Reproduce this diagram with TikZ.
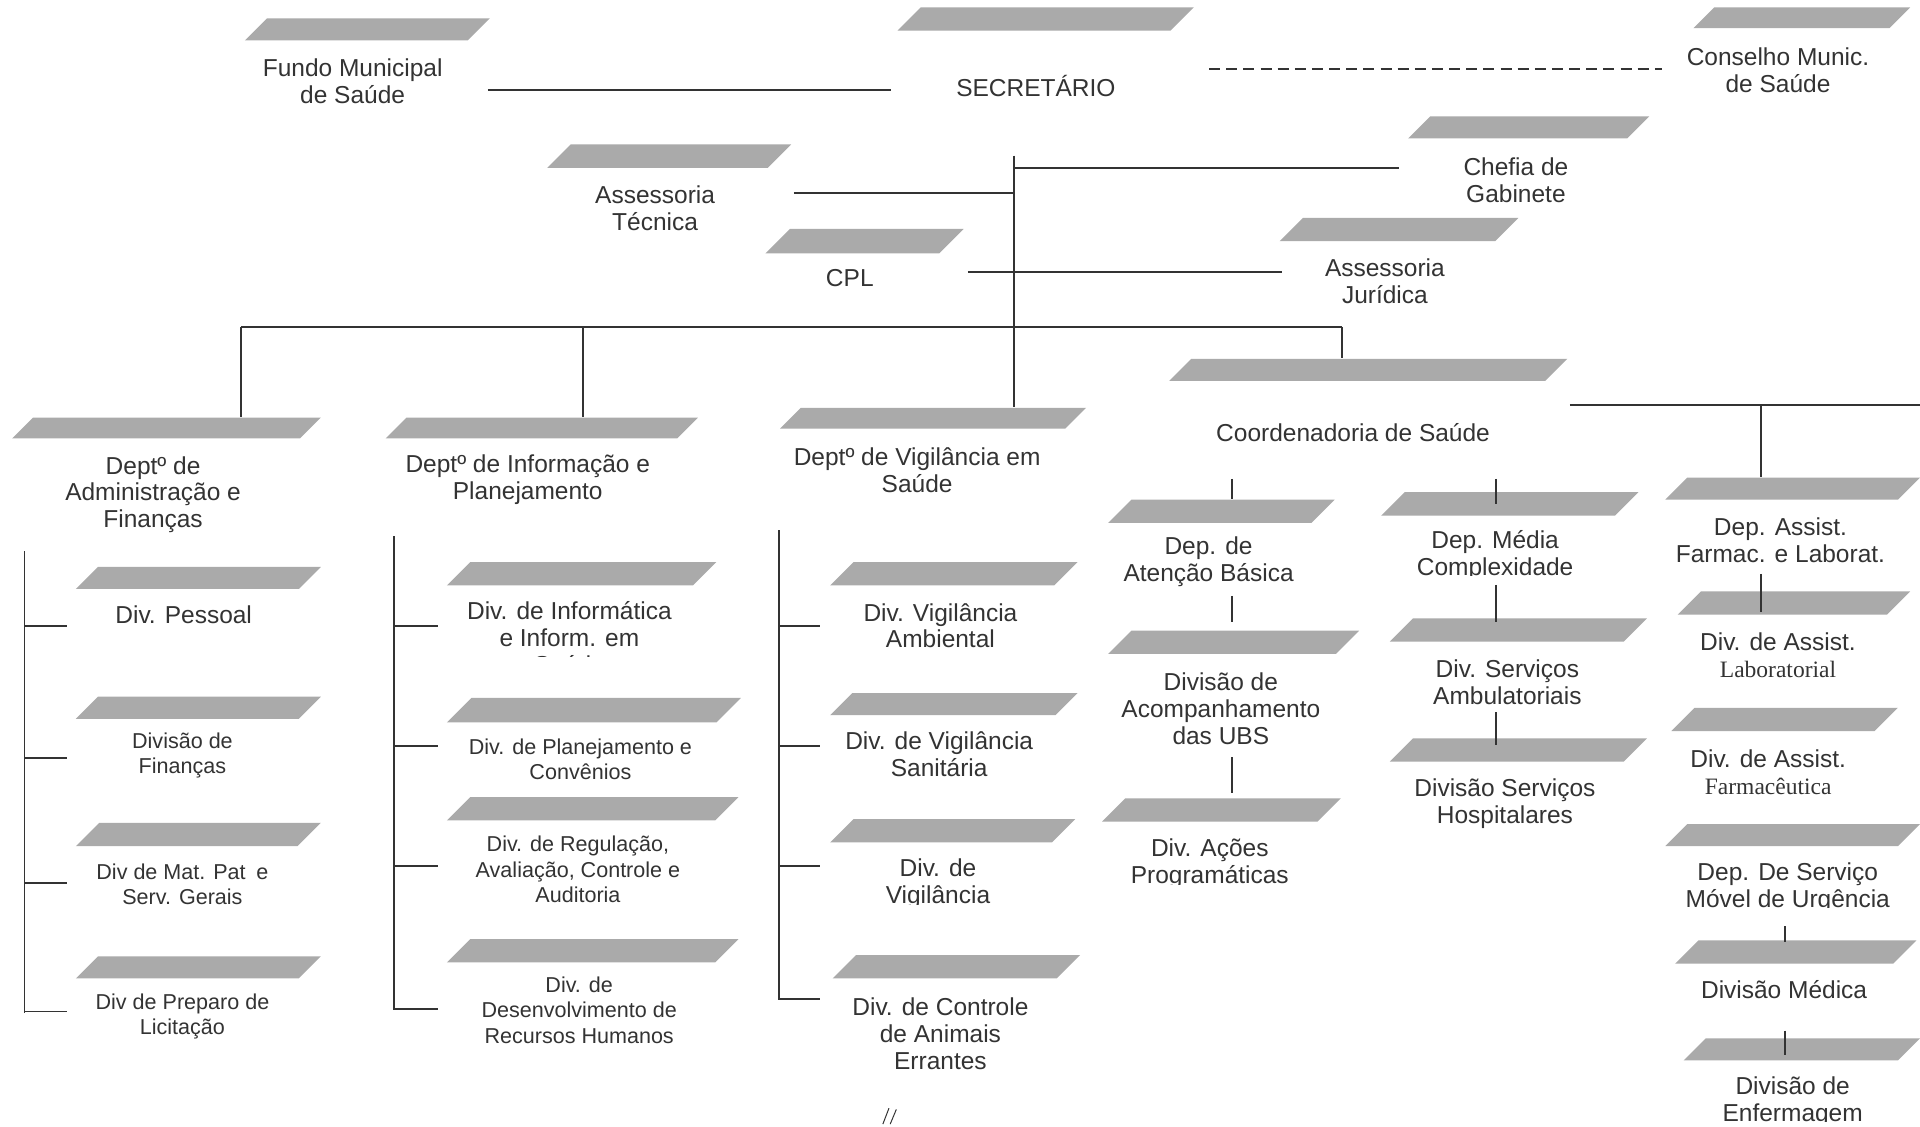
\documentclass[tikz,border=0pt]{standalone}
\usepackage{fontspec}
\setmainfont{Liberation Sans}
\newfontfamily\serifface{Liberation Serif}
\usetikzlibrary{calc,fit}

\definecolor{ink}{HTML}{333333}
\definecolor{slab}{HTML}{AAAAAA}

\newcommand\fbig{\fontsize{10}{11}\selectfont}
\newcommand\fsml{\fontsize{8.8}{10.4}\selectfont}
\newcommand\fser{\serifface\fontsize{9.6}{11}\selectfont}

\tikzset{
  link/.style={draw=ink, line width=0.7pt},
  lbl/.style={text=ink, align=center, inner sep=0pt, font=\fbig},
  lbls/.style={lbl, font=\fsml},
}

% slanted grey plate: name, left x, right x, top y, bottom y
\newcommand\slab[5]{%
  \fill[slab] (#2,#5) -- ({#2+#5-#4},#4) -- (#3,#4) -- ({#3-#5+#4},#5) -- cycle;
  \node[fit={(#2,#4) (#3,#5)}, inner sep=0pt] (#1) {};}

% short horizontal stub from a vertical spine towards a label
\newcommand\stub[4]{\draw[link] ($(#1 |- #2)+(0,#3)$) -- ++(#4,0);}

\begin{document}
\begin{tikzpicture}[x=0.5pt, y=-0.5pt]
\fill[white] (0,0) rectangle (1568,920);
\path[use as bounding box] (0,0) rectangle (1568,920);

% ---------- plates ----------
\slab{b-fundo}{200}{400}{15}{33}
\slab{b-sec}{733}{975}{6}{25}
\slab{b-cons}{1383}{1560}{6}{23}
\slab{b-chefia}{1150}{1347}{95}{113}
\slab{b-asstec}{447}{646}{118}{137}
\slab{b-cpl}{625}{787}{187}{207}
\slab{b-asjur}{1045}{1240}{178}{197}
\slab{b-adm}{10}{262}{341}{358}
\slab{b-inf}{315}{570}{341}{358}
\slab{b-vig}{637}{887}{333}{350}
\slab{b-coord}{955}{1280}{293}{311}
\slab{b-pessoal}{62}{262}{463}{481}
\slab{b-fin}{62}{262}{569}{587}
\slab{b-mat}{62}{262}{672}{691}
\slab{b-lic}{62}{262}{781}{799}
\slab{b-infsaude}{365}{585}{459}{478}
\slab{b-plan}{365}{605}{570}{590}
\slab{b-reg}{365}{603}{651}{670}
\slab{b-rh}{365}{603}{767}{786}
\slab{b-amb}{678}{880}{459}{478}
\slab{b-san}{678}{880}{566}{584}
\slab{b-vig3}{678}{878}{669}{688}
\slab{b-ani}{680}{882}{780}{799}
\slab{b-atb}{905}{1090}{408}{427}
\slab{b-acomp}{905}{1110}{515}{534}
\slab{b-acoes}{900}{1095}{652}{671}
\slab{b-media}{1128}{1338}{402}{421}
\slab{b-amb2}{1135}{1345}{505}{524}
\slab{b-hosp}{1135}{1345}{603}{622}
\slab{b-farlab}{1360}{1568}{390}{408}
\slab{b-lab}{1370}{1560}{483}{502}
\slab{b-farm}{1365}{1550}{578}{597}
\slab{b-samu}{1360}{1568}{673}{691}
\slab{b-med}{1368}{1565}{768}{787}
\slab{b-enf}{1375}{1568}{848}{866}

% ---------- labels ----------
\node[lbl] (fundo) at (288,66) {Fundo Municipal\\de Saúde};
\node[lbl] (sec) at (846,70) {SECRETÁRIO};
\node[lbl] (cons) at (1452,57) {Conselho Munic.\\de Saúde};
\node[lbl] (chefia) at (1238,147) {Chefia de\\Gabinete};
\node[lbl] (asstec) at (535,170) {Assessoria\\Técnica};
\node[lbl] (cpl) at (694,227) {CPL};
\node[lbl] (asjur) at (1131,230) {Assessoria\\Jurídica};

\node[lbl] (dadm) at (125,404) {Deptº de\\Administração e\\Finanças};
\node[lbl] (dinf) at (431,392) {Deptº de Informação e\\Planejamento};
\node[lbl] (dvig) at (749,384) {Deptº de Vigilância em\\Saúde};
\node[lbl] (coord) at (1105,353) {Coordenadoria de Saúde};

\node[lbl] (pessoal) at (150,502) {Div. Pessoal};
\node[lbls] (fin) at (149,617) {Divisão de\\Finanças};
\node[lbls] (mat) at (149,722) {Div de Mat. Pat\enspace e\\Serv. Gerais};
\node[lbls] (lic) at (149,830) {Div de Preparo de\\Licitação};

\begin{scope}
  \clip (330,440) rectangle (640,536);
  \node[lbl] (infsaude) at (465,521) {Div. de Informática\\e Inform. em\\Saúde};
\end{scope}
\node[lbls] (plan) at (474,620) {Div. de Planejamento e\\Convênios};
\node[lbls] (reg) at (472,710) {Div. de Regulação,\\Avaliação, Controle e\\Auditoria};
\node[lbls] (rh) at (473,825) {Div. de\\Desenvolvimento de\\Recursos Humanos};

\node[lbl] (amb) at (768,511) {Div. Vigilância\\Ambiental};
\node[lbl] (san) at (767,616) {Div. de Vigilância\\Sanitária};
\begin{scope}
  \clip (650,690) rectangle (900,739);
  \node[lbl] (vig3) at (766,722) {Div. de\\Vigilância};
\end{scope}
\node[lbl] (ani) at (768,844) {Div. de Controle\\de Animais\\Errantes};

\node[lbl] (atb) at (987,459) {Dep. de\\Atenção Básica};
\node[lbl] (acomp) at (997,579) {Divisão de\\Acompanhamento\\das UBS};
\begin{scope}
  \clip (880,675) rectangle (1110,722);
  \node[lbl] (acoes) at (988,705) {Div. Ações\\Programáticas};
\end{scope}
\begin{scope}
  \clip (1120,425) rectangle (1340,470);
  \node[lbl] (media) at (1221,454) {Dep. Média\\Complexidade};
\end{scope}
\node[lbl] (amb2) at (1231,557) {Div. Serviços\\Ambulatoriais};
\node[lbl] (hosp) at (1229,656) {Divisão Serviços\\Hospitalares};

\node[lbl] (farlab) at (1454,441) {Dep. Assist.\\Farmac. e Laborat.};
\node[lbl] (lab) at (1452,535) {Div. de Assist.\\{\fser Laboratorial}};
\node[lbl] (farm) at (1444,631) {Div. de Assist.\\{\fser Farmacêutica}};
\begin{scope}
  \clip (1340,695) rectangle (1568,741);
  \node[lbl] (samu) at (1460,725) {Dep. De Serviço\\Móvel de Urgência};
\end{scope}
\node[lbl] (med) at (1457,808) {Divisão Médica};
\begin{scope}
  \clip (1340,870) rectangle (1568,916);
  \node[lbl] (enf) at (1464,900) {Divisão de\\Enfermagem};
\end{scope}

% ---------- connectors ----------
% top level
\draw[link] ($(b-fundo.south east)+(-2,40)$) -- ($(b-sec.west |- b-fundo.south)+(-5,40)$);
\draw[link, dash pattern=on 4.5pt off 2.5pt]
  ($(b-sec.south east)+(12,31)$) -- ($(b-cons.west |- b-sec.south)+(-25,31)$);

\coordinate (trunk) at (828,127);
\draw[link] (trunk) -- (trunk |- b-vig.north);
\draw[link] ($(trunk |- b-chefia.south)+(0,24)$) -- ($(b-chefia.south west)+(-7,24)$);
\draw[link] ($(b-asstec.south east)+(2,20)$) -- ($(trunk |- b-asstec.south)+(0,20)$);
\draw[link] ($(b-cpl.south east)+(3,15)$) -- ($(b-asjur.south west)+(2,25)$);

% departments bus
\coordinate (busL) at (197,267);
\coordinate (busI) at (476,267);
\coordinate (busR) at (1096,267);
\draw[link] (busL) -- (busR);
\draw[link] (busL) -- (busL |- b-adm.north);
\draw[link] (busI) -- (busI |- b-inf.north);
\draw[link] (busR) -- (busR |- b-coord.north);

% administration column
\coordinate (admv) at (20,450);
\draw[link] (admv) -- ($(admv |- lic)+(0,-3)$);
\stub{admv}{pessoal}{9}{35}
\stub{admv}{fin}{2}{35}
\stub{admv}{mat}{-1}{35}
\stub{admv}{lic}{-4}{35}

% information column
\coordinate (infv) at (322,438);
\draw[link] (infv) -- ($(infv |- rh)+(0,0)$);
\stub{infv}{infsaude}{-10}{36}
\stub{infv}{plan}{-11}{36}
\stub{infv}{reg}{-3}{36}
\stub{infv}{rh}{-1}{36}

% surveillance column
\coordinate (vigv) at (636,433);
\draw[link] (vigv) -- ($(vigv |- ani)+(0,-27)$);
\stub{vigv}{amb}{0}{34}
\stub{vigv}{san}{-7}{34}
\stub{vigv}{vig3}{-15}{34}
\stub{vigv}{ani}{-28}{34}

% coordination branch
\coordinate (cL) at (1282,331);
\coordinate (cD) at (1438,331);
\coordinate (cR) at (1568,331);
\draw[link] (cL) -- (cR);
\draw[link] (cD) -- (cD |- b-farlab.north);
\draw[link] ($(cD |- b-lab.north)+(0,-14)$) -- ($(cD |- b-lab.north)+(0,17)$);

\coordinate (atbx) at (1006,391);
\draw[link] (atbx) -- (atbx |- b-atb.north);
\draw[link] ($(atbx |- b-acomp.north)+(0,-28)$) -- ($(atbx |- b-acomp.north)+(0,-7)$);
\draw[link] ($(atbx |- b-acoes.north)+(0,-33)$) -- ($(atbx |- b-acoes.north)+(0,-4)$);

\coordinate (medx) at (1222,391);
\draw[link] (medx) -- ($(medx |- b-media.north)+(0,10)$);
\draw[link] ($(medx |- b-amb2.north)+(0,-27)$) -- ($(medx |- b-amb2.north)+(0,3)$);
\draw[link] ($(medx |- b-hosp.north)+(0,-21)$) -- ($(medx |- b-hosp.north)+(0,6)$);

\draw[link] ($(med |- b-med.north)+(1,-11)$) -- ($(med |- b-med.north)+(1,2)$);
\draw[link] ($(med |- b-enf.north)+(1,-6)$) -- ($(med |- b-enf.north)+(1,14)$);

% pen marks at the foot of the sheet
\draw[ink, line width=0.4pt] (721,918) -- (726,905) (727,918) -- (732,906);
\end{tikzpicture}
\end{document}
